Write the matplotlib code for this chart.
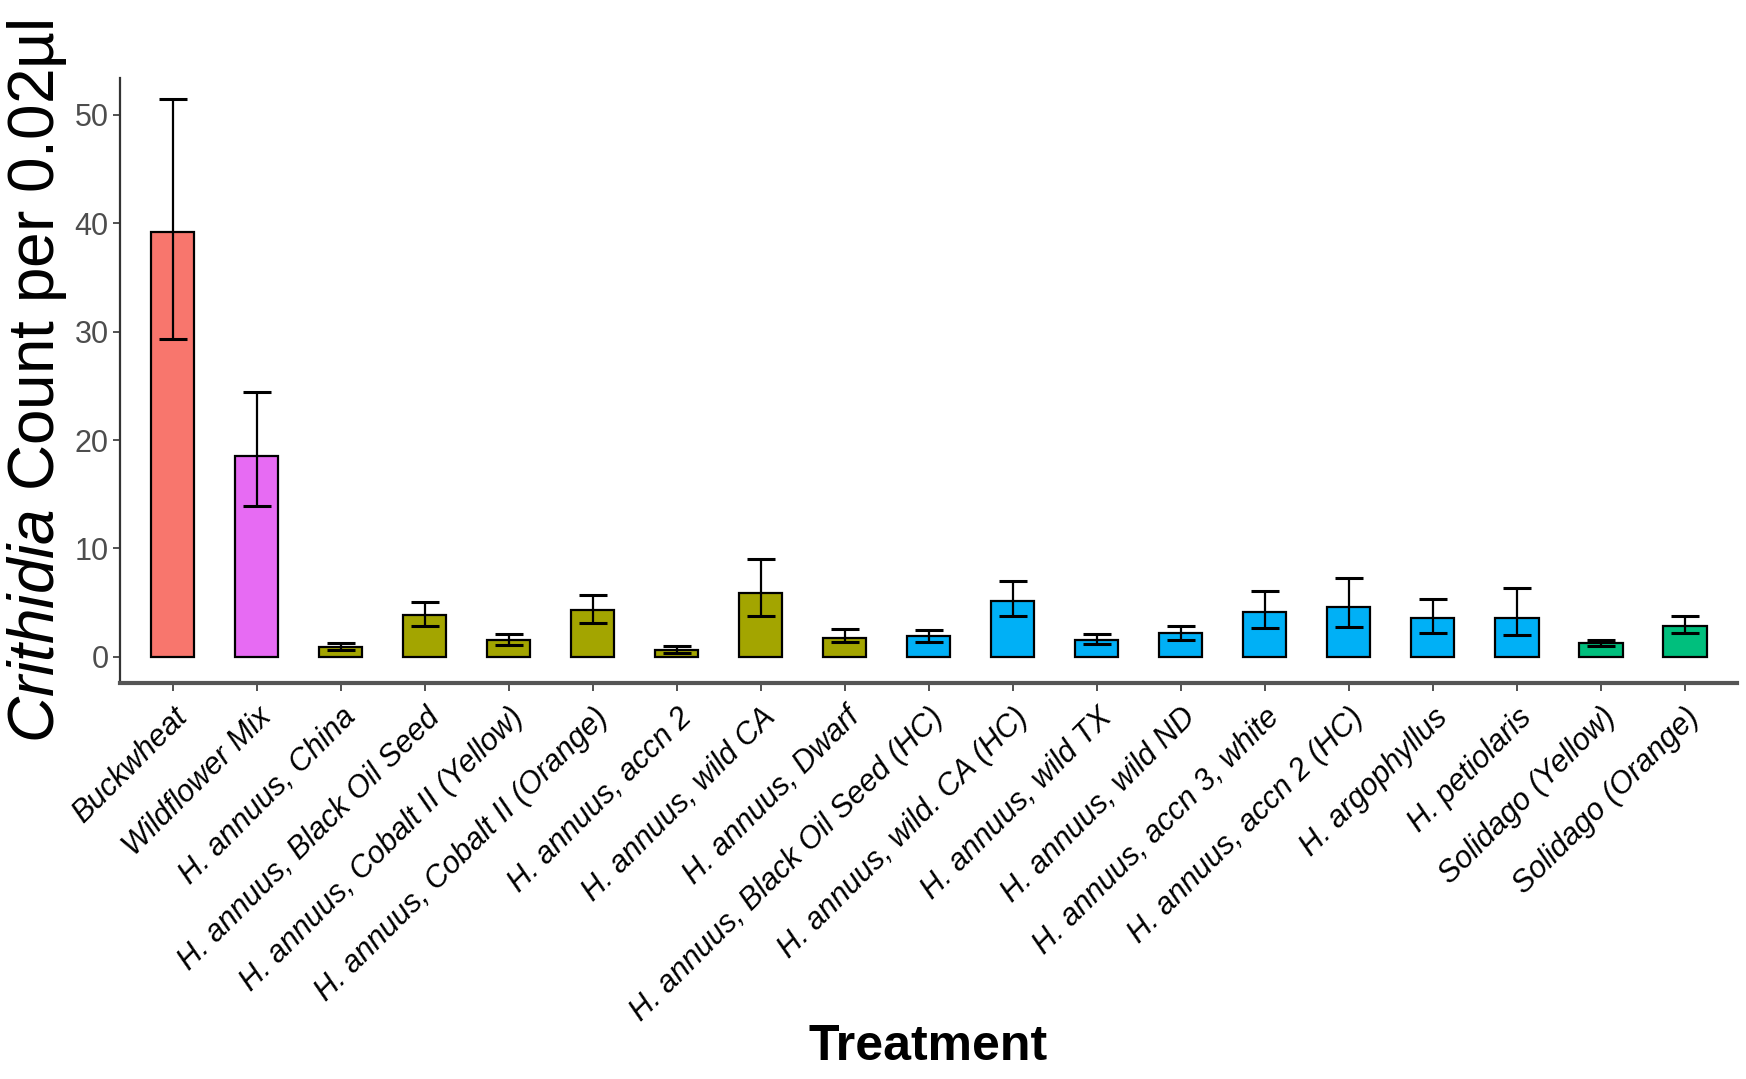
import numpy as np
import matplotlib
matplotlib.use("Agg")
import matplotlib.pyplot as plt

plt.rcParams["font.family"] = ["Liberation Sans", "DejaVu Sans"]
plt.rcParams["mathtext.fontset"] = "custom"
plt.rcParams["mathtext.it"] = "Liberation Sans:italic"
plt.rcParams["mathtext.rm"] = "Liberation Sans"

treatments = [
    "Buckwheat", "Wildflower Mix", "H. annuus, China", "H. annuus, Black Oil Seed",
    "H. annuus, Cobalt II (Yellow)", "H. annuus, Cobalt II (Orange)", "H. annuus, accn 2",
    "H. annuus, wild CA", "H. annuus, Dwarf", "H. annuus, Black Oil Seed (HC)",
    "H. annuus, wild. CA (HC)", "H. annuus, wild TX", "H. annuus, wild ND",
    "H. annuus, accn 3, white", "H. annuus, accn 2 (HC)", "H. argophyllus",
    "H. petiolaris", "Solidago (Yellow)", "Solidago (Orange)",
]
# group of each treatment (sets the fill colour)
groups = ["buckwheat", "wildflower"] + ["annuus"] * 7 + ["hc"] * 8 + ["solidago"] * 2

means = [39.2, 18.5, 0.9, 3.9, 1.55, 4.3, 0.6, 5.9, 1.75,
         1.9, 5.2, 1.6, 2.2, 4.1, 4.6, 3.6, 3.6, 1.3, 2.9]
err_low = [29.3, 13.9, 0.6, 2.9, 1.1, 3.1, 0.35, 3.8, 1.4,
           1.4, 3.8, 1.2, 1.6, 2.7, 2.8, 2.25, 2.0, 0.97, 2.2]
err_high = [51.4, 24.4, 1.3, 5.1, 2.1, 5.7, 1.0, 9.0, 2.6,
            2.5, 7.0, 2.1, 2.9, 6.1, 7.3, 5.3, 6.4, 1.6, 3.8]

group_colors = {
    "buckwheat": "#F8766D",
    "wildflower": "#E76BF3",
    "annuus": "#A3A500",
    "hc": "#00B0F6",
    "solidago": "#00BF7D",
}

fig = plt.figure(figsize=(17.46, 10.79), dpi=100)
ax = fig.add_axes([0.0687, 0.367, 0.9263, 0.561])

x = np.arange(len(treatments))
means = np.array(means)
yerr = np.vstack([means - np.array(err_low), np.array(err_high) - means])

ax.bar(x, means, width=0.52, color=[group_colors[g] for g in groups],
       edgecolor="black", linewidth=1.6, zorder=2)
ax.errorbar(x, means, yerr=yerr, fmt="none", ecolor="black", elinewidth=1.6,
            capsize=10, capthick=2.2, zorder=3)

ax.set_xlim(-0.626, len(treatments) - 1 + 0.626)
ax.set_ylim(-2.4, 53.4)
ax.set_yticks([0, 10, 20, 30, 40, 50])

ax.set_xticks(x)
ax.set_xticklabels(treatments, rotation=45, ha="right", va="top",
                   rotation_mode="anchor", fontsize=22, style="italic", color="black")
ax.tick_params(axis="y", labelsize=22, labelcolor="#4D4D4D", color="#333333",
               length=5, width=1.2, pad=3)
ax.tick_params(axis="x", color="#333333", length=6, width=1.2, pad=8)

for side in ["top", "right"]:
    ax.spines[side].set_visible(False)
ax.spines["left"].set_linewidth(1.6)
ax.spines["left"].set_color("#333333")
ax.spines["bottom"].set_linewidth(3)
ax.spines["bottom"].set_color("#555555")

fig.text(0.021, 0.647, r"$\mathit{Crithidia}$ Count per 0.02µl", rotation=90,
         ha="center", va="center", fontsize=46, color="black")
fig.text(0.5315, 0.03, "Treatment", ha="center", va="center",
         fontsize=36, fontweight="bold", color="black")

fig.savefig("out.png", dpi=100, facecolor="white")
